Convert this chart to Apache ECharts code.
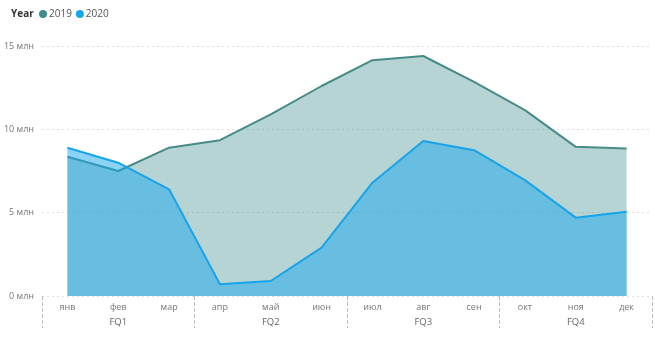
<!DOCTYPE html>
<html><head><meta charset="utf-8">
<script src="https://cdn.jsdelivr.net/npm/echarts@6/dist/echarts.min.js"></script>
<style>html,body{margin:0;padding:0;background:#fff}#c{width:655px;height:338px}</style>
</head><body><div id="c"></div>
<script>
const months = ['янв','фев','мар','апр','май','июн','июл','авг','сен','окт','ноя','дек'];
const quarters = ['FQ1','FQ2','FQ3','FQ4'];
const series2019 = [8.35, 7.5, 8.9, 9.35, 10.9, 12.6, 14.15, 14.4, 12.85, 11.15, 8.95, 8.85];
const series2020 = [8.9, 8.0, 6.4, 0.7, 0.9, 2.9, 6.8, 9.3, 8.75, 6.95, 4.7, 5.05];

const font = '"Open Sans", "Noto Sans", sans-serif';
const chart = echarts.init(document.getElementById('c'));
chart.setOption({
  animation: false,
  title: { text: 'Year', left: 6, top: 4, textStyle: { fontFamily: font, fontSize: 10, fontWeight: 'bold', color: '#333' } },
  legend: {
    left: 34, top: 4, icon: 'circle', itemWidth: 8, itemHeight: 8, itemGap: 4,
    textStyle: { fontFamily: font, fontSize: 10, color: '#555', padding: [0,0,0,-3] },
    data: ['2019', '2020']
  },
  grid: { left: 42, right: 3, top: 46, bottom: 42 },
  xAxis: [
    { type: 'category', data: months, boundaryGap: true,
      axisLine: { show: false }, axisTick: { show: false },
      axisLabel: { fontFamily: font, fontSize: 9, color: '#777', margin: 7 } },
    { type: 'category', data: quarters, position: 'bottom', boundaryGap: true,
      axisLine: { show: false },
      axisTick: { show: true, length: 32, interval: (i) => i < 4, lineStyle: { color: '#bbb', type: 'dashed', width: 1 } },
      axisLabel: { fontFamily: font, fontSize: 9.5, color: '#666', margin: 21 } }
  ],
  yAxis: {
    type: 'value', min: 0, max: 15, interval: 5,
    axisLabel: { fontFamily: font, fontSize: 9, color: '#777', margin: 8, formatter: v => v + ' млн' },
    splitLine: { lineStyle: { color: '#ddd', type: [2, 3], width: 1 } },
    axisLine: { show: false }, axisTick: { show: false }
  },
  series: [
    { name: '2019', type: 'line', data: series2019, symbol: 'none', color: '#3f8c8c',
      lineStyle: { width: 2, color: '#478b88' },
      areaStyle: { color: '#3f8f8f', opacity: 0.38 }, z: 2 },
    { name: '2020', type: 'line', data: series2020, symbol: 'none', color: '#16a6ec',
      lineStyle: { width: 2, color: '#18a4ea' },
      areaStyle: { color: '#17a8ec', opacity: 0.5 }, z: 3 }
  ]
});
</script></body></html>
